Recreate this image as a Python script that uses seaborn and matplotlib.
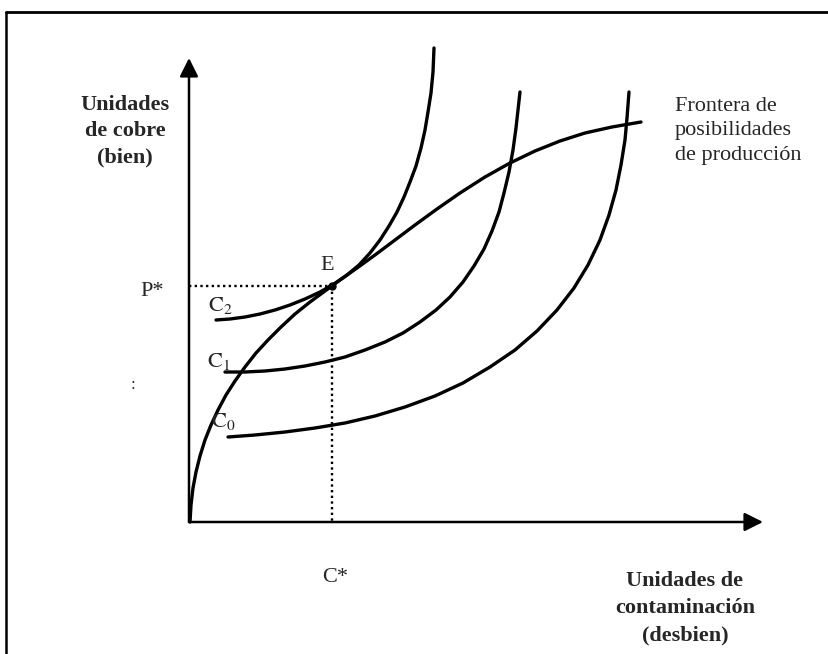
import matplotlib
matplotlib.use("Agg")
import matplotlib.pyplot as plt
import seaborn as sns
import pandas as pd

# curve points (pixel positions, y downwards)
frontier_x = [190, 191, 193, 196, 200, 205, 211, 218, 226, 235, 245, 256, 268, 281, 295, 310, 325,
              340, 357, 375, 395, 415, 437, 460, 485, 510, 535, 560, 585, 612, 641]
frontier_y = [522, 505, 488, 472, 456, 440, 425, 410, 395, 381, 367, 353, 340, 327, 314, 302, 291,
              280, 268, 255, 240, 225, 209, 193, 177, 163, 151, 141, 133, 127, 122]

c2_x = [216, 230, 245, 260, 275, 290, 305, 320, 334, 347, 359, 370, 380, 389, 397, 404, 410, 416,
        421, 425, 428, 431, 433, 434]
c2_y = [320, 319, 317, 314, 310, 305, 299, 292, 284, 275, 265, 253, 240, 226, 212, 197, 182, 166,
        148, 130, 112, 93, 72, 48]

c1_x = [225, 245, 265, 285, 305, 325, 345, 365, 385, 403, 420, 436, 450, 463, 474, 484, 492, 499,
        504, 509, 513, 516, 518, 520]
c1_y = [372, 372, 371, 369, 366, 362, 357, 350, 342, 333, 322, 310, 297, 282, 266, 249, 231, 212,
        193, 172, 150, 128, 110, 92]

c0_x = [228, 255, 285, 315, 345, 375, 405, 435, 463, 490, 515, 537, 557, 574, 588, 600, 609, 616,
        621, 625, 627, 629]
c0_y = [437, 435, 432, 428, 423, 416, 407, 396, 383, 367, 350, 331, 310, 288, 265, 240, 215, 190,
        165, 140, 118, 92]

origin = (189, 522)
y_tip = (189, 58)
x_tip = (763, 522)
eq_point = (332, 286)

sns.set_style("white")
plt.rcParams["font.family"] = ["Liberation Serif", "DejaVu Serif"]
plt.rcParams["mathtext.fontset"] = "stix"

fig = plt.figure(figsize=(8.29, 6.54), dpi=100)
ax = fig.add_axes([0, 0, 1, 1])
ax.set_xlim(0, 829)
ax.set_ylim(654, 0)
ax.axis("off")

curves = pd.concat([
    pd.DataFrame({"x": frontier_x, "y": frontier_y, "curva": "frontera"}),
    pd.DataFrame({"x": c2_x, "y": c2_y, "curva": "C2"}),
    pd.DataFrame({"x": c1_x, "y": c1_y, "curva": "C1"}),
    pd.DataFrame({"x": c0_x, "y": c0_y, "curva": "C0"}),
])
sns.lineplot(data=curves, x="x", y="y", units="curva", estimator=None, sort=False,
             color="black", linewidth=2.4, solid_joinstyle="round", ax=ax)

# frame of the scan
ax.plot([6, 829], [12, 12], color="black", lw=2.0)
ax.plot([6, 6], [12, 654], color="black", lw=1.8)

# axes with arrows
for tip in (y_tip, x_tip):
    ax.annotate("", xy=tip, xytext=origin,
                arrowprops=dict(arrowstyle="-|>", color="black", lw=1.8,
                                mutation_scale=28, shrinkA=0, shrinkB=0))

# dotted guides to the equilibrium
ax.plot([origin[0], eq_point[0]], [eq_point[1], eq_point[1]], color="black", lw=1.7, ls=(0, (1, 1.4)))
ax.plot([eq_point[0], eq_point[0]], [eq_point[1], origin[1]], color="black", lw=1.7, ls=(0, (1, 1.4)))
ax.plot([eq_point[0]], [eq_point[1]], "o", color="black", ms=5)

ax.text(125, 131, "Unidades\nde cobre\n(bien)", ha="center", va="center",
        fontsize=16, fontweight="bold", linespacing=1.4)
ax.text(685, 608, "Unidades de\ncontaminación\n(desbien)", ha="center", va="center",
        fontsize=16, fontweight="bold", linespacing=1.5)
ax.text(675, 131, "Frontera de\nposibilidades\nde producción", ha="left", va="center",
        fontsize=16, linespacing=1.4)

ax.text(152, 291, "P*", ha="center", va="center", fontsize=16)
ax.text(335, 577, "C*", ha="center", va="center", fontsize=16)
ax.text(327, 265, "E", ha="center", va="center", fontsize=16)
ax.text(220, 305, r"$\mathrm{C}_2$", ha="center", va="center", fontsize=16)
ax.text(219, 362, r"$\mathrm{C}_1$", ha="center", va="center", fontsize=16)
ax.text(223, 422, r"$\mathrm{C}_0$", ha="center", va="center", fontsize=16)
ax.text(133, 385, ":", ha="center", va="center", fontsize=12)

fig.savefig("out.png", dpi=100)
